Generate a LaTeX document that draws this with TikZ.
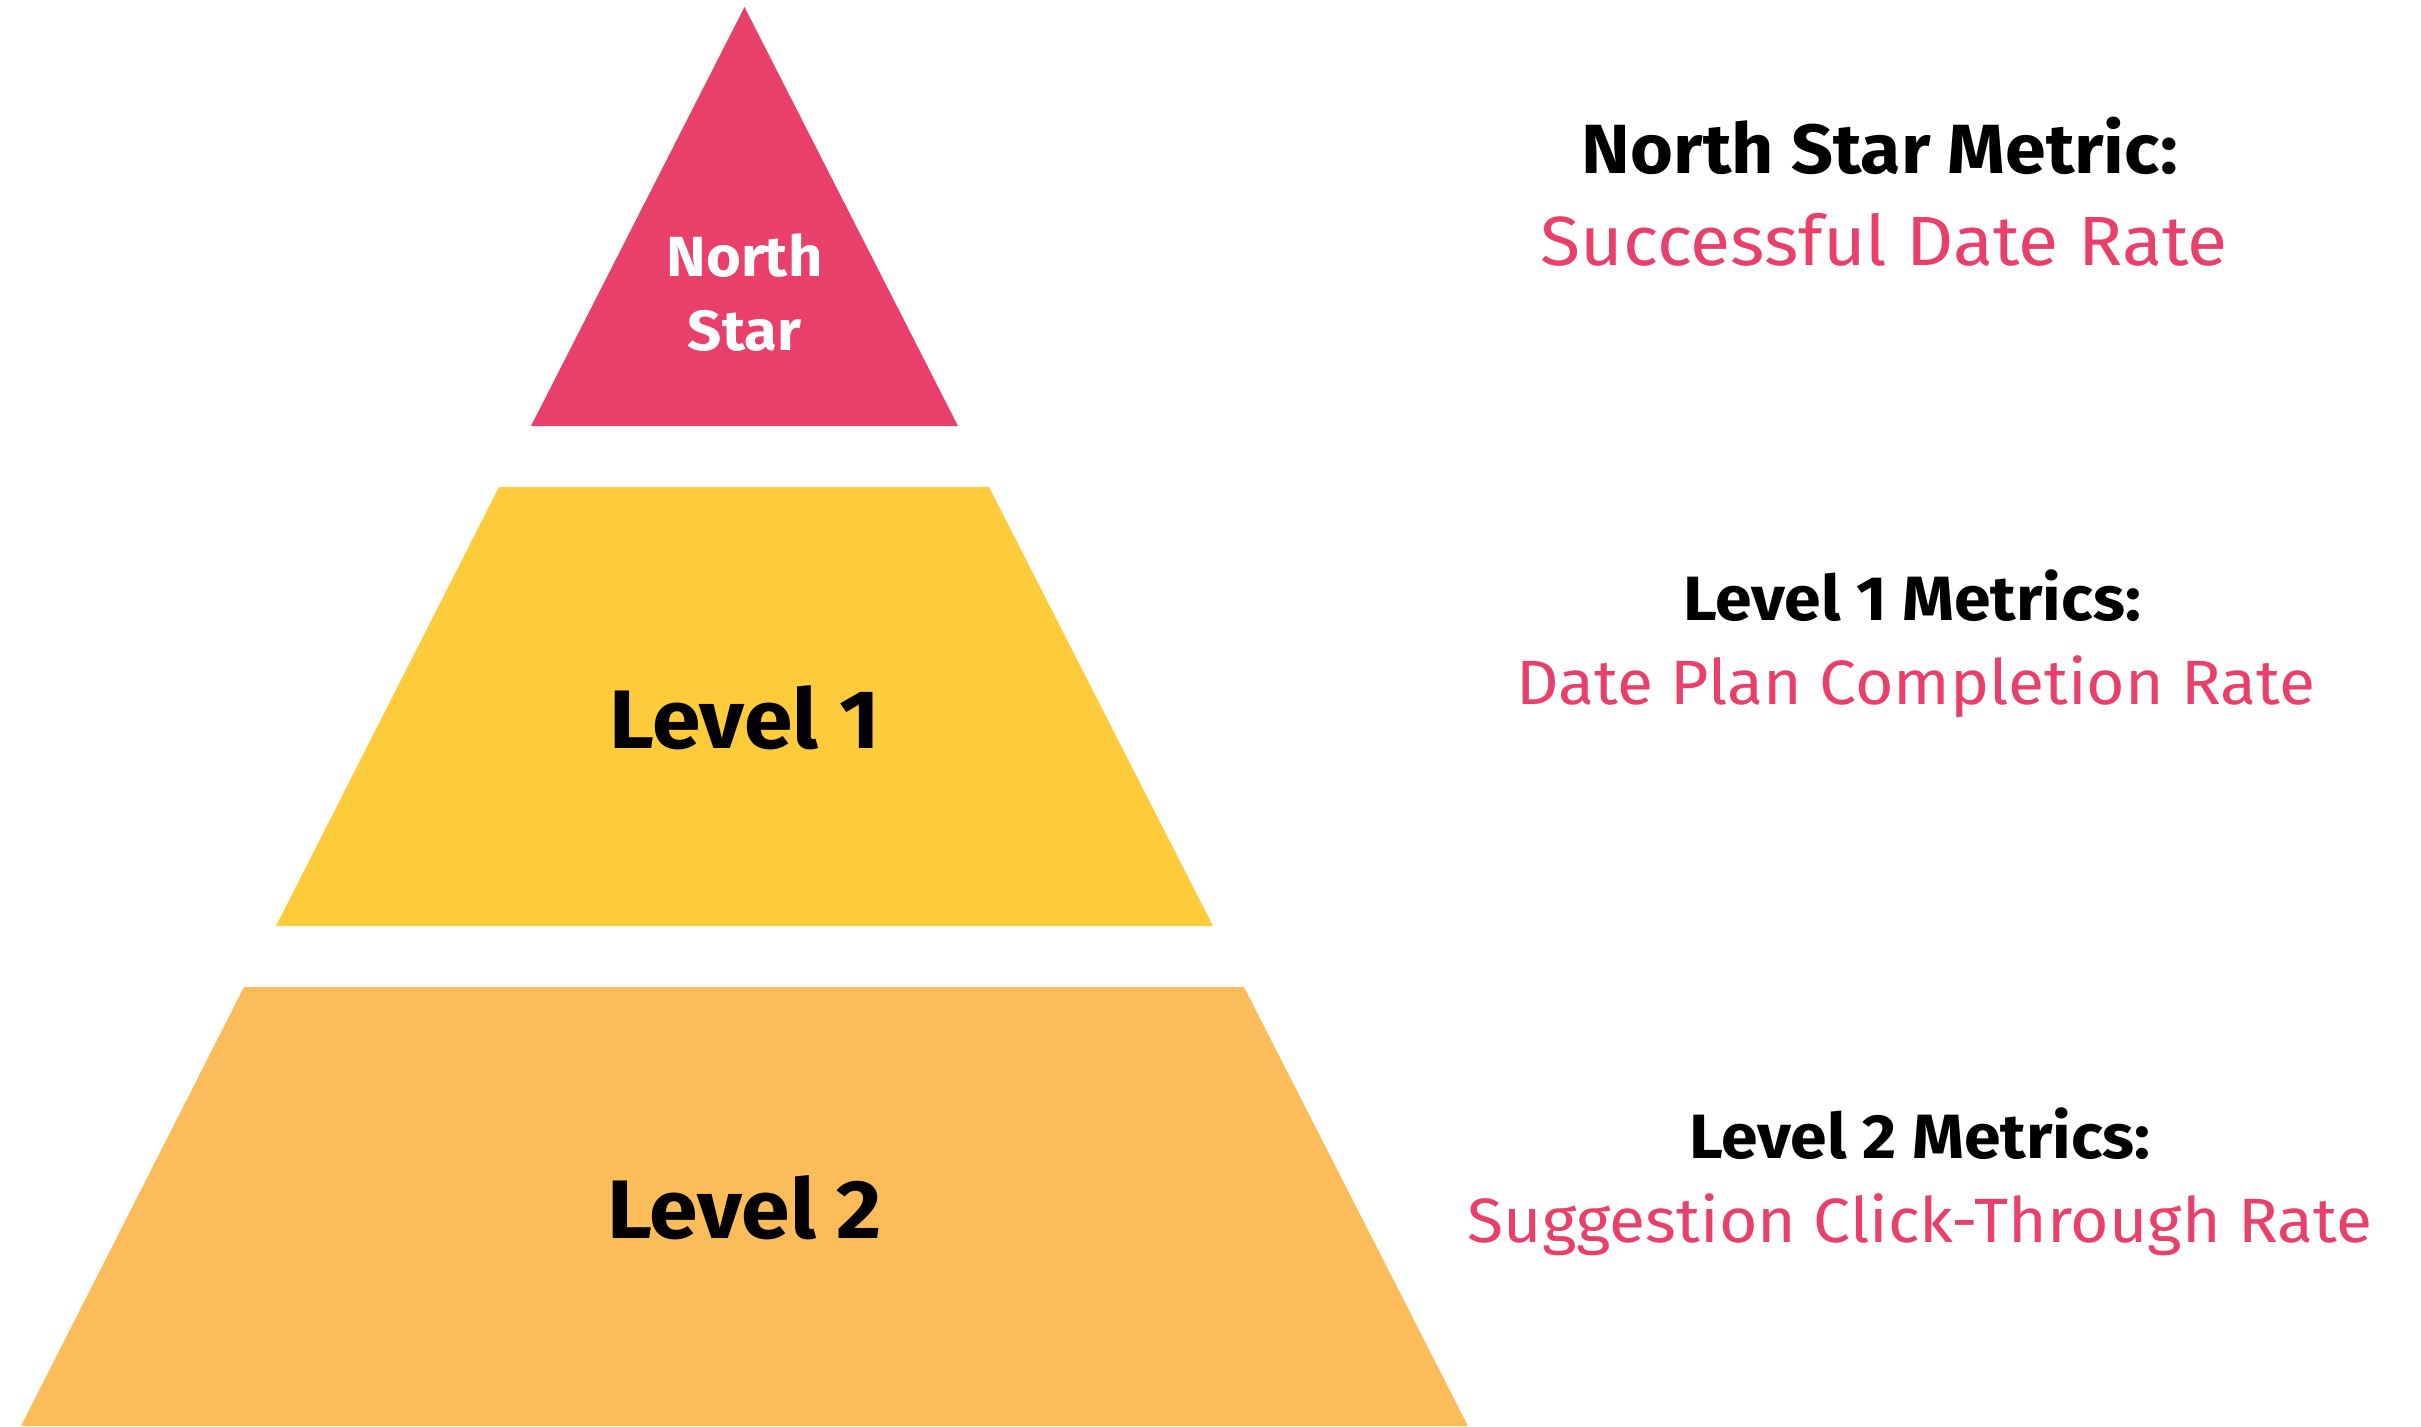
\documentclass[tikz,border=0pt]{standalone}
\usepackage{fontspec}
\setmainfont[FakeStretch=1.055]{Fira Sans}

\definecolor{starpink}{HTML}{E8406A}
\definecolor{levelone}{HTML}{FECB3A}
\definecolor{leveltwo}{HTML}{FDBC5A}

\tikzset{
	tierlabel/.style={anchor=base, font=\bfseries\fontsize{23.6}{28}\selectfont},
	starlabel/.style={anchor=base, text=white, font=\bfseries\fontsize{16.1}{19}\selectfont},
	metrichead/.style={anchor=base, font=\bfseries\fontsize{17.8}{21}\selectfont},
	metricval/.style={anchor=base, text=starpink, font=\fontsize{17.8}{21}\selectfont},
}

\begin{document}
\begin{tikzpicture}[x=0.01cm, y=-0.01cm]
	\useasboundingbox (0,0) rectangle (2421,1426);
	
	% pyramid
	\fill[starpink] (744.5,7) -- (958,426) -- (531,426) -- cycle;
	\fill[levelone] (499,487) -- (989,487) -- (1213,926) -- (276,926) -- cycle;
	\fill[leveltwo] (244,987) -- (1244,987) -- (1468,1426) -- (21,1426) -- cycle;
	
	\node[starlabel] (north) at (744.5,276) {North};
	\node[starlabel] (star) at (744.5,350) {Star};
	\node[tierlabel] (lone) at (744.5,748) {Level 1};
	\node[tierlabel] (ltwo) at (744.5,1238) {Level 2};
	
	% metrics
	\node[metrichead, font=\bfseries\fontsize{19.8}{23}\selectfont] (nshead) at (1880,173) {North Star Metric:};
	\node[metricval, font=\fontsize{19.8}{23}\selectfont] (nsval) at (1884,265) {Successful Date Rate};
	\node[metrichead] (lonehead) at (1912,620) {Level 1 Metrics:};
	\node[metricval] (loneval) at (1916,704) {Date Plan Completion Rate};
	\node[metrichead] (ltwohead) at (1920,1158) {Level 2 Metrics:};
	\node[metricval] (ltwoval) at (1920,1242) {Suggestion Click-Through Rate};
\end{tikzpicture}
\end{document}
